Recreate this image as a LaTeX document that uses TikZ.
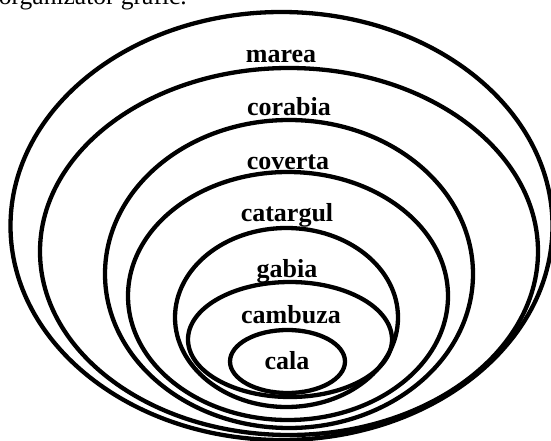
\documentclass[tikz,border=0pt]{standalone}
\usepackage{fontspec}
\setmainfont{Liberation Serif}
\usetikzlibrary{shapes.geometric}
\begin{document}
\begin{tikzpicture}[x=1pt,y=1pt,
  ring/.style={draw=black, line width=4.3pt, shape=ellipse, inner sep=0pt},
  lbl/.style={font=\fontsize{26}{30}\selectfont\bfseries, inner sep=0pt, anchor=base}]
\useasboundingbox (0,0) rectangle (551,-441);
\node[anchor=base east, inner sep=0pt, font=\fontsize{25.5}{30}\selectfont] (title) at (187,-5) {organizator grafic.};
\node[ring, minimum width=542pt, minimum height=428pt] (e1) at (281.5,-226) {};
\node[ring, minimum width=498pt, minimum height=367pt] (e2) at (289,-251.5) {};
\node[ring, minimum width=368pt, minimum height=308pt] (e3) at (289,-274) {};
\node[ring, minimum width=320pt, minimum height=248pt] (e4) at (288,-296) {};
\node[ring, minimum width=223pt, minimum height=179pt] (e5) at (286.5,-317.5) {};
\node[ring, minimum width=204pt, minimum height=115pt] (e6) at (290,-339.5) {};
\node[ring, minimum width=115pt, minimum height=63pt] (e7) at (287.5,-361.5) {};
\node[lbl] (t1) at (281,-63) {marea};
\node[lbl] (t2) at (289,-116) {corabia};
\node[lbl] (t3) at (288,-169) {coverta};
\node[lbl] (t4) at (287,-221) {catargul};
\node[lbl] (t5) at (287,-277) {gabia};
\node[lbl] (t6) at (291,-323) {cambuza};
\node[lbl] (t7) at (287,-369) {cala};
\end{tikzpicture}
\end{document}
